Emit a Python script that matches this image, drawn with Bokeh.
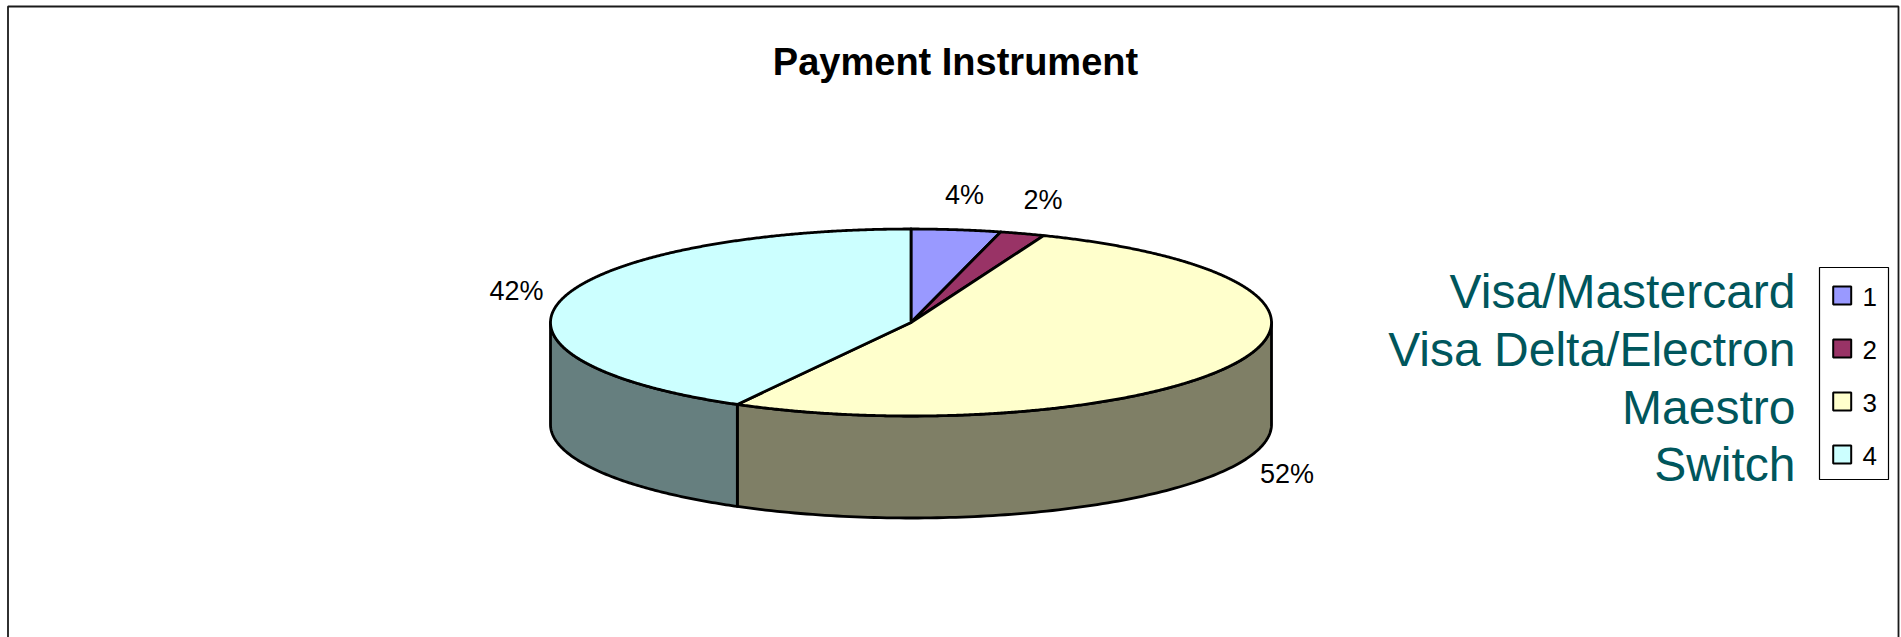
import numpy as np
from bokeh.plotting import figure
from bokeh.models import Range1d
from bokeh.core.properties import value
from bokeh.embed import file_html
from bokeh.resources import INLINE

# ---- data ----
categories = ["Visa/Mastercard", "Visa Delta/Electron", "Maestro", "Switch"]
shares = [4, 2, 52, 42]          # percent
legend_keys = ["1", "2", "3", "4"]
colors = ["#9999FF", "#993366", "#FFFFCC", "#CCFFFF"]
title_text = "Payment Instrument"

FONT = "Liberation Sans"

W, H = 1901, 637
p = figure(width=W, height=H, output_backend="svg", toolbar_location=None,
           x_range=Range1d(0, W), y_range=Range1d(H, 0),
           min_border=0, x_axis_type=None, y_axis_type=None,
           outline_line_color=None, background_fill_color="white")
p.grid.visible = False

# chart-area border (bottom edge lies outside the window)
p.quad(left=[7.5], right=[1898], top=[6], bottom=[720], fill_color=None,
       line_color="#1a1a1a", line_width=1.8)

# title
p.text(x=[955], y=[61], text=[title_text], text_font=value(FONT),
       text_font_size="38px", text_font_style="bold", text_color="black",
       text_align="center", text_baseline="middle")

# ---- 3D pie geometry ----
cx, cy, rx, ry, depth = 910.5, 322.0, 360.5, 93.5, 102.0
vals = np.array(shares, dtype=float)
frac = vals / vals.sum()
ends = np.cumsum(frac) * 2 * np.pi
starts = ends - frac * 2 * np.pi

def ex(t):
    return cx + rx * np.sin(t)

def ey(t, dy=0.0):
    return cy - ry * np.cos(t) + dy

def darker(h):
    h = h.lstrip("#")
    r, g, b = (int(h[i:i + 2], 16) // 2 for i in (0, 2, 4))
    return "#%02x%02x%02x" % (r, g, b)

side_x, side_y, side_c = [], [], []
for a0, a1, c in zip(starts, ends, colors):
    lo, hi = max(a0, np.pi / 2), min(a1, 3 * np.pi / 2)
    if hi > lo:
        t = np.linspace(lo, hi, 120)
        side_x.append(np.concatenate([ex(t), ex(t[::-1])]))
        side_y.append(np.concatenate([ey(t), ey(t[::-1], depth)]))
        side_c.append(darker(c))
p.patches(xs=side_x, ys=side_y, fill_color=side_c, line_color="black",
          line_width=2.8, line_join="round")

top_x, top_y = [], []
for a0, a1 in zip(starts, ends):
    t = np.linspace(a0, a1, max(4, int(200 * (a1 - a0))))
    top_x.append(np.concatenate([[cx], ex(t)]))
    top_y.append(np.concatenate([[cy], ey(t)]))
p.patches(xs=top_x, ys=top_y, fill_color=colors, line_color="black",
          line_width=2.8, line_join="round")

# data labels
mid = (starts + ends) / 2
s, c_ = np.sin(mid), np.cos(mid)
lab_x = cx + (rx + 55) * s + np.where((c_ > 0) & (s > 0), 12 * s, 0) \
        + np.where(s < -0.5, 8, 0)
lab_y = cy - (ry + 35) * c_ + np.where(c_ < 0, depth * 0.95, 0)
lab_t = ["%d%%" % round(f * 100) for f in frac]
p.text(x=lab_x, y=lab_y, text=lab_t, text_font=value(FONT), text_font_size="27px",
       text_color="black", text_align="center", text_baseline="middle")

# ---- legend ----
idx = np.arange(len(categories))
p.quad(left=[1819], right=[1888], top=[267], bottom=[479], fill_color="white",
       line_color="black", line_width=1.2)
row_y = 295 + idx * 53
p.rect(x=np.full(len(idx), 1841.7), y=row_y, width=18, height=18,
       fill_color=colors, line_color="black", line_width=2)
p.text(x=np.full(len(idx), 1862), y=row_y + 1, text=legend_keys, text_font=value(FONT),
       text_font_size="26px", text_color="black", text_align="left",
       text_baseline="middle")

name_y = 291 + idx * 57.8
p.text(x=np.full(len(idx), 1795), y=name_y, text=categories, text_font=value(FONT),
       text_font_size="48px", text_color="#00565C", text_align="right",
       text_baseline="alphabetic")

open("out.html", "w").write(file_html(p, INLINE))
